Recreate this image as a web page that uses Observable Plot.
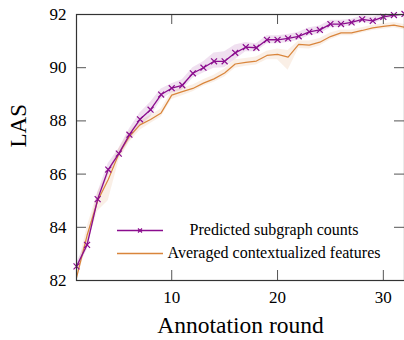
<!DOCTYPE html>
<html>
<head>
<meta charset="utf-8">
<script src="https://cdn.jsdelivr.net/npm/d3@7"></script>
<script src="https://cdn.jsdelivr.net/npm/@observablehq/plot@0.6"></script>
<style>
  html, body { margin: 0; padding: 0; background: #fff; }
  #wrap { position: relative; width: 404px; height: 340px; font-family: "Liberation Serif", "DejaVu Serif", serif; }
  #legend { position: absolute; left: 117px; top: 221px; font-size: 16px; color: #000; }
  .row { position: relative; height: 23px; }
  .row svg { position: absolute; left: 0; top: 0; }
  .row span { position: absolute; left: 0; width: 314px; text-align: center; top: 0px; white-space: nowrap; line-height: 18px; }
</style>
</head>
<body>
<div id="wrap"></div>
<script>
const rounds = [1,2,3,4,5,6,7,8,9,10,11,12,13,14,15,16,17,18,19,20,21,22,23,24,25,26,27,28,29,30,31,32];
const pred   = [82.53,83.34,85.06,86.17,86.77,87.48,88.06,88.42,88.99,89.23,89.34,89.79,90.00,90.24,90.24,90.56,90.77,90.75,91.05,91.05,91.10,91.18,91.35,91.42,91.64,91.64,91.70,91.82,91.76,91.91,91.98,92.02];
const predLo = [82.40,83.15,84.85,85.95,86.60,87.25,87.80,88.15,88.80,89.05,89.15,89.60,89.80,89.98,90.00,90.30,90.60,90.60,90.90,90.90,90.95,91.03,91.20,91.27,91.50,91.52,91.58,91.70,91.64,91.80,91.90,91.95];
const predHi = [82.65,83.50,85.30,86.40,86.95,87.70,88.30,88.70,89.20,89.40,89.55,90.00,90.22,90.55,90.60,90.85,90.95,90.90,91.20,91.20,91.25,91.33,91.50,91.57,91.78,91.78,91.82,91.94,91.90,92.02,92.08,92.10];
const avg    = [82.10,83.70,85.00,85.80,86.76,87.42,87.85,88.05,88.30,88.97,89.10,89.22,89.42,89.58,89.80,90.14,90.20,90.25,90.46,90.50,90.40,90.88,90.85,90.96,91.17,91.31,91.31,91.40,91.50,91.55,91.60,91.52];
const avgLo  = [82.00,83.30,84.60,85.00,86.50,87.20,87.65,87.90,88.15,88.80,88.95,89.10,89.30,89.45,89.65,89.98,90.05,90.10,90.30,90.30,89.90,90.72,90.70,90.82,91.05,91.20,91.20,91.30,91.40,91.45,91.50,91.42];
const avgHi  = [82.30,84.00,85.30,86.10,86.95,87.60,88.00,88.20,88.45,89.10,89.25,89.35,89.55,89.72,89.95,90.30,90.35,90.40,90.62,90.70,90.65,91.00,91.00,91.10,91.30,91.42,91.42,91.50,91.60,91.65,91.70,91.62];
const xTicks = [10, 20, 30];
const yTicks = [82, 84, 86, 88, 90, 92];
const seriesNames = ["Predicted subgraph counts", "Averaged contextualized features"];
const colors = ["#8b0d8e", "#d9853b"];
const xLabel = "Annotation round";
const yLabel = "LAS";

const rows = rounds.map((r, i) => ({
  r, pred: pred[i], predLo: predLo[i], predHi: predHi[i],
  avg: avg[i], avgLo: avgLo[i], avgHi: avgHi[i]
}));

const W = 404, H = 340, mL = 76, mR = 0, mT = 14, mB = 60;
const pw = W - mL - mR, ph = H - mT - mB;
const tick = 10;

const chart = Plot.plot({
  width: W, height: H,
  marginLeft: mL, marginRight: mR, marginTop: mT, marginBottom: mB,
  style: { fontFamily: "Liberation Serif, serif", fontSize: "17px", color: "#000", background: "#fff", overflow: "visible" },
  x: { domain: [1, 32] },
  y: { domain: [82, 92] },
  marks: [
    Plot.areaY(rows, { x: "r", y1: "predLo", y2: "predHi", fill: colors[0], fillOpacity: 0.13, clip: true }),
    Plot.areaY(rows, { x: "r", y1: "avgLo", y2: "avgHi", fill: colors[1], fillOpacity: 0.13, clip: true }),
    Plot.line(rows, { x: "r", y: "avg", stroke: colors[1], strokeWidth: 1.2, clip: true }),
    Plot.line(rows, { x: "r", y: "pred", stroke: colors[0], strokeWidth: 1.3, clip: true }),
    Plot.dot(rows, { x: "r", y: "pred", symbol: "times", r: 2.8, stroke: colors[0], strokeWidth: 1.2 }),
    // inner ticks
    Plot.tickY(yTicks, { y: d => d, insetRight: pw - tick, stroke: "#555", strokeWidth: 1 }),
    Plot.tickY(yTicks, { y: d => d, insetLeft: pw - tick, stroke: "#555", strokeWidth: 1 }),
    Plot.tickX(xTicks, { x: d => d, insetTop: ph - tick, stroke: "#555", strokeWidth: 1 }),
    Plot.tickX(xTicks, { x: d => d, insetBottom: ph - tick, stroke: "#555", strokeWidth: 1 }),
    Plot.frame({ stroke: "#333", strokeWidth: 1.2 }),
    Plot.axisY({ ticks: yTicks, tickSize: 0, tickPadding: 10, label: null, fontSize: 17 }),
    Plot.axisX({ ticks: xTicks, tickSize: 0, tickPadding: 10, label: null, fontSize: 17 }),
    Plot.text([xLabel], { frameAnchor: "bottom", dy: 52, fontSize: 23.5, text: d => d }),
    Plot.text([yLabel], { frameAnchor: "left", dx: -58, rotate: -90, fontSize: 23, text: d => d })
  ]
});

const wrap = document.getElementById("wrap");
wrap.appendChild(chart);

const legend = document.createElement("div");
legend.id = "legend";
seriesNames.forEach((name, i) => {
  const row = document.createElement("div");
  row.className = "row";
  const withMark = i === 0;
  row.innerHTML =
    `<svg width="50" height="20"><line x1="0" y1="9.5" x2="46" y2="9.5" stroke="${colors[i]}" stroke-width="1.3"/>` +
    (withMark ? `<path d="M21,7.5L25,11.5M25,7.5L21,11.5" stroke="${colors[i]}" stroke-width="1.2"/>` : "") +
    `</svg><span>${name}</span>`;
  legend.appendChild(row);
});
wrap.appendChild(legend);
</script>
</body>
</html>
